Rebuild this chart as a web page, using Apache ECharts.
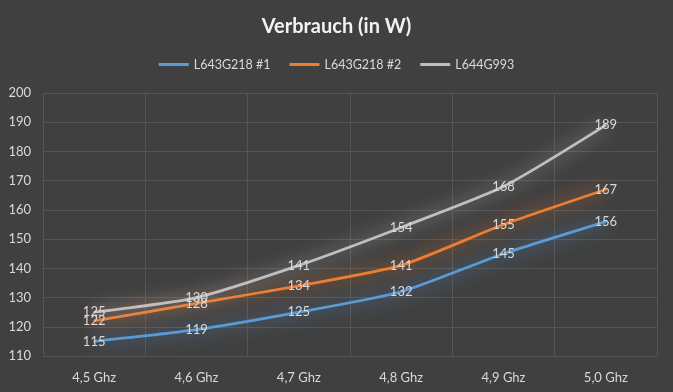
<!DOCTYPE html>
<html><head><meta charset="utf-8">
<script src="https://cdn.jsdelivr.net/npm/echarts@6/dist/echarts.min.js"></script>
<style>html,body{margin:0;padding:0;background:#404040;}#c{width:673px;height:392px;}</style>
</head><body><div id="c"></div>
<script>
const categories = ['4,5 Ghz','4,6 Ghz','4,7 Ghz','4,8 Ghz','4,9 Ghz','5,0 Ghz'];
const seriesNames = ['L643G218 #1','L643G218 #2','L644G993'];
const s1 = [115,119,125,132,145,156];
const s2 = [122,128,134,141,155,167];
const s3 = [125,130,141,154,168,189];
const colors = ['#5b9bd5','#ed7d31','#bfbfbf'];
const font = 'Lato, "Open Sans", sans-serif';
const chart = echarts.init(document.getElementById('c'));
function mk(name, data, color){
  return {
    name, type:'line', data, smooth:0.2, showSymbol:true, symbol:'circle', symbolSize:2,
    lineStyle:{color, width:2.75, shadowColor:color, shadowBlur:18},
    itemStyle:{color},
    label:{show:true, position:'inside', color:'#d9d9d9', fontSize:13, fontFamily:font},
    emphasis:{disabled:true}
  };
}
chart.setOption({
  backgroundColor:'#404040',
  animation:false,
  color:colors,
  title:{text:'Verbrauch (in W)', left:'center', top:12,
    textStyle:{color:'#f2f2f2', fontSize:20, fontWeight:'bold', fontFamily:font}},
  legend:{top:53, left:'center', itemWidth:30, itemHeight:3, itemGap:19, icon:'rect',
    textStyle:{color:'#d9d9d9', fontSize:12.5, fontFamily:font},
    data:seriesNames},
  grid:{left:43, right:16, top:93, bottom:36},
  xAxis:{type:'category', data:categories, boundaryGap:true,
    axisLine:{show:false}, axisTick:{show:false},
    splitLine:{show:true, lineStyle:{color:'#555555', width:1}},
    axisLabel:{color:'#d9d9d9', fontSize:13, fontFamily:font, margin:15}},
  yAxis:{type:'value', min:110, max:200, interval:10,
    axisLine:{show:false}, axisTick:{show:false},
    splitLine:{show:true, lineStyle:{color:'#555555', width:1}},
    axisLabel:{color:'#d9d9d9', fontSize:13, fontFamily:font, margin:12}},
  series:[mk(seriesNames[0], s1, colors[0]), mk(seriesNames[1], s2, colors[1]), mk(seriesNames[2], s3, colors[2])]
});
</script></body></html>
